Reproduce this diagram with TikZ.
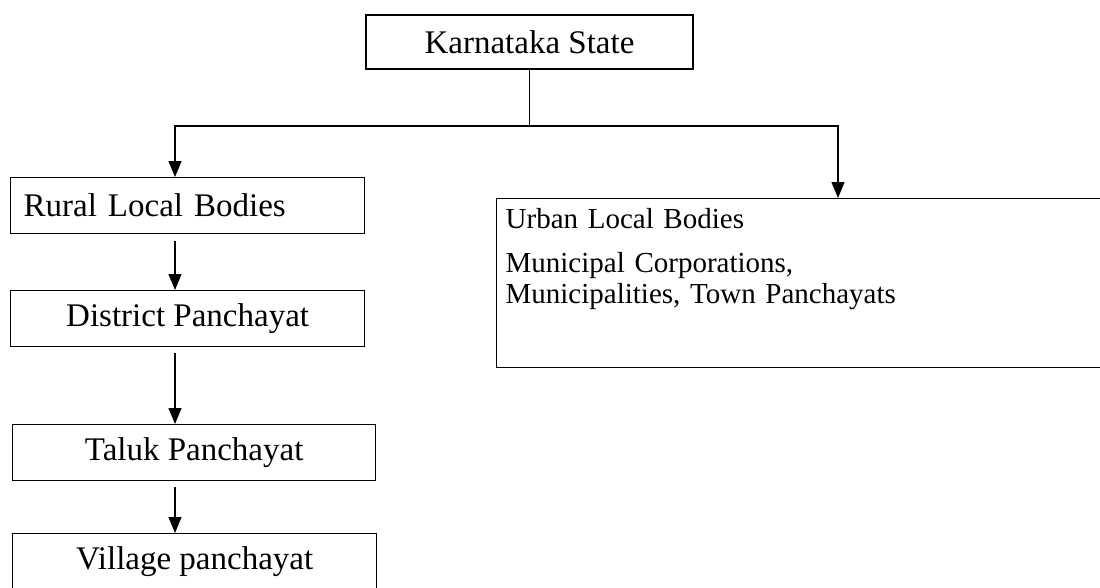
\documentclass[tikz,border=0pt]{standalone}
\usepackage{fontspec}
\setmainfont{Liberation Serif}
\usetikzlibrary{arrows.meta}
\newcommand{\boxfont}{\fontsize{33}{31}\selectfont}
\newcommand{\listfont}{\fontsize{29}{31}\selectfont}
\tikzset{
  box/.style={draw=black, line width=1.3pt, rectangle, font=\boxfont, minimum height=56pt, inner ysep=0pt},
  link/.style={black, line width=1.3pt, -{Triangle[width=13pt,length=16pt]}},
  plain/.style={black, line width=1.3pt},
}

\begin{document}
\begin{tikzpicture}[x=1pt,y=-1pt]
\useasboundingbox (0,0) rectangle (1100,587);
\clip (0,0) rectangle (1100,587);
\node[box, minimum width=327pt, minimum height=54pt] (state) at (529.5,42) {Karnataka State};
\node[box, anchor=north west, text width=328pt, inner xsep=13pt, align=left] (rural) at (10,177) {Rural Local Bodies};
\node[box, anchor=north west, minimum width=354pt] (district) at (10,290) {District Panchayat};
\node[box, anchor=north west, minimum width=363pt] (taluk) at (12,424) {Taluk Panchayat};
\node[box, anchor=north west, minimum width=364pt] (village) at (12,533) {Village panchayat};
\node[box, font=\listfont, anchor=north west, text width=622pt, inner xsep=9pt, inner ysep=10pt, align=left] (urban) at (496,198) {Urban Local Bodies\\[13pt]Municipal Corporations,\\Municipalities, Town Panchayats\rule[-54pt]{0pt}{0pt}};
\coordinate (spine) at (175,0);
\coordinate (rspine) at (838,0);
\coordinate (fork) at (state.south |- 0,126);
\draw[plain] (state.south) -- (fork);
\draw[link] (fork) -| (rural.north -| spine);
\draw[link] (fork) -| (urban.north -| rspine);
\draw[link, shorten <=7pt] (rural.south -| spine) -- (district.north -| spine);
\draw[link, shorten <=6pt] (district.south -| spine) -- (taluk.north -| spine);
\draw[link, shorten <=6pt] (taluk.south -| spine) -- (village.north -| spine);
\end{tikzpicture}
\end{document}
